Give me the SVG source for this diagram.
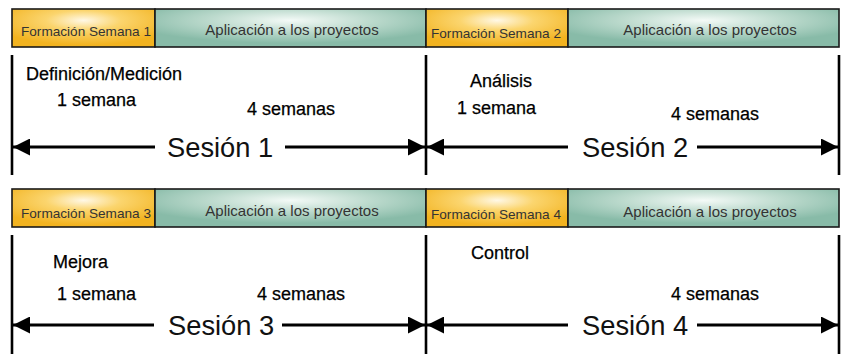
<svg xmlns="http://www.w3.org/2000/svg" width="847" height="354" viewBox="0 0 847 354">
<defs>
<radialGradient id="gOr" cx="50%" cy="30%" r="65%" fx="50%" fy="30%">
<stop offset="0" stop-color="#FFF8E6"/>
<stop offset="0.4" stop-color="#FBD56E"/>
<stop offset="1" stop-color="#F2B320"/>
</radialGradient>
<radialGradient id="gTe" cx="50%" cy="30%" r="60%" fx="50%" fy="30%">
<stop offset="0" stop-color="#F4FAF7"/>
<stop offset="0.5" stop-color="#BCDACD"/>
<stop offset="1" stop-color="#88BBA8"/>
</radialGradient>
<marker id="ah" viewBox="0 0 17 17" refX="17" refY="8.5" markerWidth="17" markerHeight="17" markerUnits="userSpaceOnUse" orient="auto-start-reverse">
<path d="M0,0 L17,8.5 L0,17 z" fill="#000"/>
</marker>
</defs>
<style>
.or{fill:url(#gOr);stroke:#1a1a1a;stroke-width:1.6}
.te{fill:url(#gTe);stroke:#1a1a1a;stroke-width:1.6}
.ft{font-family:"Liberation Sans",Arial,sans-serif;font-size:13.6px;fill:#333}
.at{font-family:"Liberation Sans",Arial,sans-serif;font-size:15px;fill:#333;text-anchor:middle}
.lb{font-family:"Liberation Sans",Arial,sans-serif;font-size:18px;fill:#000;stroke:#000;stroke-width:0.25}
.ss{font-family:"Liberation Sans",Arial,sans-serif;font-size:27.3px;fill:#111}
.vl{stroke:#000;stroke-width:2.6}
.ar{stroke:#000;stroke-width:3;fill:none}
</style>
<g id="s1">
<rect class="or" x="12" y="9" width="143" height="38"/>
<text class="ft" x="21" y="36">Formación Semana 1</text>
<rect class="te" x="155" y="9" width="271" height="38"/>
<text class="at" x="292" y="35">Aplicación a los proyectos</text>
<text class="lb" x="26" y="80">Definición/Medición</text>
<text class="lb" x="57" y="106">1 semana</text>
<text class="lb" x="247" y="115">4 semanas</text>
<text class="ss" x="167" y="157">Sesión 1</text>
</g>
<g id="s2">
<rect class="or" x="426" y="9" width="142" height="38"/>
<text class="ft" x="431" y="38">Formación Semana 2</text>
<rect class="te" x="568" y="9" width="271" height="38"/>
<text class="at" x="710" y="35">Aplicación a los proyectos</text>
<text class="lb" x="470" y="87">Análisis</text>
<text class="lb" x="457" y="114">1 semana</text>
<text class="lb" x="671" y="120">4 semanas</text>
<text class="ss" x="582" y="157">Sesión 2</text>
</g>
<g id="s3">
<rect class="or" x="12" y="189" width="143" height="38"/>
<text class="ft" x="21" y="218">Formación Semana 3</text>
<rect class="te" x="155" y="189" width="271" height="38"/>
<text class="at" x="292" y="216">Aplicación a los proyectos</text>
<text class="lb" x="53" y="268">Mejora</text>
<text class="lb" x="57" y="300">1 semana</text>
<text class="lb" x="257" y="300">4 semanas</text>
<text class="ss" x="168" y="335">Sesión 3</text>
</g>
<g id="s4">
<rect class="or" x="426" y="189" width="142" height="38"/>
<text class="ft" x="431" y="219">Formación Semana 4</text>
<rect class="te" x="568" y="189" width="271" height="38"/>
<text class="at" x="710" y="217">Aplicación a los proyectos</text>
<text class="lb" x="471" y="259">Control</text>
<text class="lb" x="671" y="300">4 semanas</text>
<text class="ss" x="582" y="335">Sesión 4</text>
</g>
<g id="connectors">
<line class="vl" x1="12" y1="55" x2="12" y2="175"/>
<line class="vl" x1="426" y1="55" x2="426" y2="175"/>
<line class="vl" x1="839" y1="55" x2="839" y2="175"/>
<line class="vl" x1="12" y1="235" x2="12" y2="354"/>
<line class="vl" x1="426" y1="235" x2="426" y2="354"/>
<line class="vl" x1="839" y1="235" x2="839" y2="354"/>
<line class="ar" x1="155" y1="147" x2="13" y2="147" marker-end="url(#ah)"/>
<line class="ar" x1="285" y1="147" x2="425" y2="147" marker-end="url(#ah)"/>
<line class="ar" x1="568" y1="147" x2="427" y2="147" marker-end="url(#ah)"/>
<line class="ar" x1="697" y1="147" x2="838" y2="147" marker-end="url(#ah)"/>
<line class="ar" x1="154" y1="325" x2="13" y2="325" marker-end="url(#ah)"/>
<line class="ar" x1="282" y1="325" x2="425" y2="325" marker-end="url(#ah)"/>
<line class="ar" x1="568" y1="325" x2="427" y2="325" marker-end="url(#ah)"/>
<line class="ar" x1="697" y1="325" x2="838" y2="325" marker-end="url(#ah)"/>
</g>
</svg>
